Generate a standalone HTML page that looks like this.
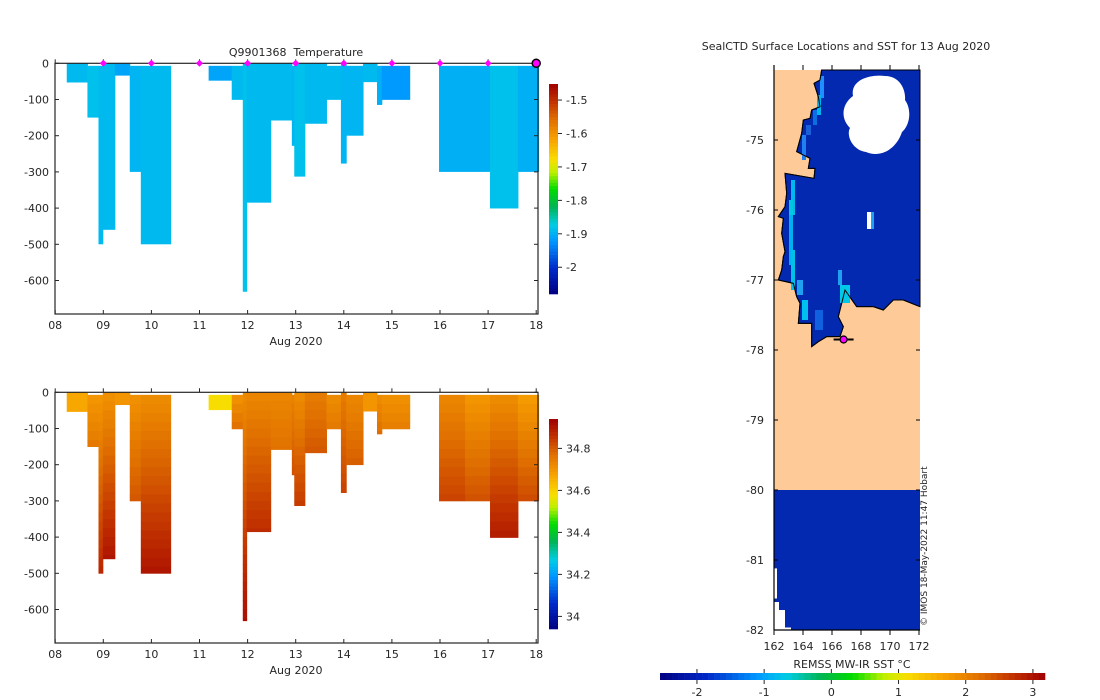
<!DOCTYPE html>
<html><head><meta charset="utf-8">
<style>
html,body{margin:0;padding:0;background:#fff;}
svg{display:block;font-family:"DejaVu Sans","Liberation Sans",sans-serif;}
text{fill:#262626;font-size:11px;}
</style></head>
<body>
<svg id="fig" width="1100" height="700" viewBox="0 0 1100 700"></svg>
<script>
// ---- data ----
const dayStart = [0.24,0.67,0.9,0.99,1.24,1.55,1.78,3.19,3.67,3.9,3.98,4.48,4.92,4.97,5.19,5.64,5.94,6.05,6.4,6.69,6.79,7.98,8.52,9.04,9.62];
const dayEnd   = [0.67,0.9,0.99,1.24,1.55,1.78,2.4,3.67,3.9,3.98,4.48,4.92,4.97,5.19,5.64,5.94,6.05,6.4,6.69,6.79,7.37,8.52,9.04,9.62,10.05];
const depthTop = [0,7,7,0,0,7,7,7,7,0,0,0,7,0,0,7,0,7,0,7,7,7,7,7,7];
const depthBot = [53,150,500,460,34,300,500,48,101,631,385,158,228,313,167,101,277,200,52,115,101,300,300,401,300];
const tempVals = [-1.89,-1.885,-1.89,-1.89,-1.91,-1.895,-1.89,-1.91,-1.89,-1.885,-1.89,-1.89,-1.895,-1.885,-1.89,-1.89,-1.895,-1.895,-1.89,-1.9,-1.92,-1.9,-1.9,-1.885,-1.9];
const salTop = [34.67,34.70,34.70,34.71,34.70,34.71,34.72,34.58,34.71,34.72,34.73,34.73,34.74,34.72,34.75,34.72,34.75,34.73,34.70,34.72,34.71,34.73,34.70,34.72,34.69];
const salBot = [34.67,34.76,34.88,34.91,34.70,34.81,34.91,34.58,34.78,34.92,34.87,34.77,34.82,34.85,34.81,34.76,34.84,34.80,34.70,34.78,34.75,34.84,34.82,34.90,34.83];
const surfaceDays = [1,2,3,4,5,6,7,8,9];
const lastDay = [10];
const xTickLabels = ["08","09","10","11","12","13","14","15","16","17","18"];
const yTicks = [0,-100,-200,-300,-400,-500,-600];
const tempTicks = [-1.5,-1.6,-1.7,-1.8,-1.9,-2];
const salTicks = [34.8,34.6,34.4,34.2,34];
const sstTicks = [-2,-1,0,1,2,3];
const latTicks = [-75,-76,-77,-78,-79,-80,-81,-82];
const lonTicks = [162,164,166,168,170,172];
const shipLon = [166.8]; const shipLat = [-77.85];

const NS="http://www.w3.org/2000/svg";
const svg=document.getElementById('fig');
function el(tag,attrs,parent){const e=document.createElementNS(NS,tag);for(const k in attrs)e.setAttribute(k,attrs[k]);(parent||svg).appendChild(e);return e;}
function txt(s,x,y,anchor,parent,size){const t=el('text',{x:x,y:y,'text-anchor':anchor||'middle'},parent);if(size)t.style.fontSize=size+'px';t.textContent=s;return t;}

const stops=[[0,[0,0,128]],[0.12,[0,40,200]],[0.25,[0,150,255]],[0.33,[0,205,230]],[0.42,[0,180,80]],[0.5,[0,220,0]],[0.58,[190,240,0]],[0.64,[248,222,0]],[0.74,[248,160,0]],[0.83,[224,112,0]],[0.92,[192,48,0]],[1,[160,0,0]]];
function cmap(t){t=Math.max(0,Math.min(1,t));for(let i=1;i<stops.length;i++){if(t<=stops[i][0]){const a=stops[i-1],b=stops[i];const f=(t-a[0])/(b[0]-a[0]);const c=a[1].map((v,j)=>Math.round(v+(b[1][j]-v)*f));return `rgb(${c[0]},${c[1]},${c[2]})`;}}return 'rgb(160,0,0)';}

const X0=55.2, DAY=48.1, L=55, R=538;
const xs=d=>X0+d*DAY;
function panel(name,y0,ybot,drawCols){
  const g=el('g',{});
  
  
  const ys=z=>y0+z*0.362;
  drawCols(g,ys);
  el('rect',{x:L,y:y0,width:R-L,height:ybot-y0,fill:'none',stroke:'#262626','stroke-width':1.2},g);
  xTickLabels.forEach((lab,i)=>{const x=xs(i);el('line',{x1:x,x2:x,y1:ybot,y2:ybot-4,stroke:'#262626'},g);el('line',{x1:x,x2:x,y1:y0,y2:y0-4,stroke:'#262626'},g);const t=txt(lab,x,ybot+15,'middle',g);});
  yTicks.forEach(v=>{const y=ys(-v);el('line',{x1:L,x2:L+4,y1:y,y2:y,stroke:'#262626'},g);el('line',{x1:R,x2:R-4,y1:y,y2:y,stroke:'#262626'},g);const t=txt(String(v),L-6,y+4,'end',g);});
  const xl=txt('Aug 2020',296,ybot+31,'middle',g);
  
  return ys;
}
const tnorm=v=>(v+2.08)/(2.08-1.452);
const ysT=panel('temperature-panel',63.3,314,(g,ys)=>{
  for(let i=0;i<dayStart.length;i++){
    const r=el('rect',{x:xs(dayStart[i]),y:ys(depthTop[i]),width:xs(dayEnd[i])-xs(dayStart[i])+0.5,height:ys(depthBot[i])-ys(depthTop[i]),fill:cmap(tnorm(tempVals[i]))},g);
    
    
  }
});
surfaceDays.forEach(d=>{const m=el('path',{d:`M${xs(d)-3.5},${ysT(0)} L${xs(d)},${ysT(0)-3.5} L${xs(d)+3.5},${ysT(0)} L${xs(d)},${ysT(0)+3.5}Z`,fill:'#ff00ff'});
  
  });
lastDay.forEach(d=>{const c=el('circle',{cx:xs(d),cy:ysT(0),r:4,fill:'#ff00ff',stroke:'#000','stroke-width':1.5});
  
  });
const tt=txt('Q9901368\u00a0 Temperature',296,56,'middle');


const snorm=v=>(v-33.94)/1.0;
panel('salinity-panel',392.3,643,(g,ys)=>{
  for(let i=0;i<dayStart.length;i++){
    const top=depthTop[i],bot=depthBot[i];const step=25;
    for(let z=top;z<bot;z+=step){
      const z2=Math.min(bot,z+step);const f=(z-top)/Math.max(1,bot-top);
      const v=salTop[i]+(salBot[i]-salTop[i])*f;
      const r=el('rect',{x:xs(dayStart[i]),y:ys(z),width:xs(dayEnd[i])-xs(dayStart[i])+0.5,height:ys(z2)-ys(z)+0.4,fill:cmap(snorm(v))},g);
      
      
    }
  }
});

function vbar(name,x,y1,y2,vmin,vmax,ticks){
  const g=el('g',{});
  
  
  const n=64,h=(y2-y1)/n;
  for(let i=0;i<n;i++)el('rect',{x:x,y:y2-(i+1)*h,width:9,height:h+0.3,fill:cmap((i+0.5)/n)},g);
  ticks.forEach(v=>{const y=y2-(v-vmin)/(vmax-vmin)*(y2-y1);el('line',{x1:x+9,x2:x+13,y1:y,y2:y,stroke:'#262626'},g);txt(String(v),x+17,y+4,'start',g);});
}
vbar('temperature-colorbar',549,84,294,-2.08,-1.452,tempTicks);
vbar('salinity-colorbar',549,419,629,33.94,34.94,salTicks);

// ---- map ----
const mapL=774,mapR=920,mapT=70,mapB=630;
const lonX=lo=>774+(lo-162)*14.5;
const latY=la=>140+(-75-la)*70;
const mg=el('g',{});


el('rect',{x:mapL,y:mapT,width:mapR-mapL,height:mapB-mapT,fill:'#fecb98'},mg);
el('rect',{x:mapL,y:latY(-80),width:mapR-mapL,height:mapB-latY(-80),fill:'#0329b0'},mg);
el('path',{d:`M${mapL},${latY(-81.12)} h3 v${latY(-81.55)-latY(-81.12)} h-3Z M${mapL},${latY(-81.6)} h5 l0,8 h6 v${latY(-81.95)-latY(-81.7)} h6 v10 h-17Z`,fill:'#fff'},mg);
const coast=[[245,30],[240,60],[222,70],[235,110],[240,140],[215,150],[210,175],[190,180],[185,220],[170,275],[210,295],[205,325],[225,325],[222,355],[135,340],[140,400],[135,440],[115,470],[130,475],[125,520],[135,575],[130,590],[125,630],[115,660],[160,670],[170,710],[180,730],[175,790],[215,790],[215,860],[235,845],[260,830],[300,830],[310,800],[295,770],[315,690],[350,740],[400,740],[430,750],[460,720],[490,720],[540,740],[540,30]].map(p=>[p[0]/3+740,p[1]/3+60]);
el('path',{d:'M'+coast.map(p=>p.join(',')).join(' L')+'Z',fill:'#0329b0',stroke:'#000','stroke-width':1},mg);
const cells=[[820,76,4,22,'#1e90ff'],[817,95,4,20,'#00b4f0'],[813,110,4,15,'#0a70e0'],[806,125,5,10,'#1a60d8'],[802,135,4,25,'#2080f0'],[791,180,4,35,'#00b8f0'],[789,200,4,20,'#00c8e0'],[789,215,4,50,'#00b0f0'],[791,250,4,40,'#00c0e8'],[797,280,6,15,'#20a0f0'],[802,300,6,20,'#00c0f0'],[815,310,8,20,'#1060e0'],[838,270,4,15,'#20a0f0'],[840,285,10,18,'#00c8e8'],[867,212,4,17,'#ffffff'],[871,212,3,17,'#20a0f0']];
cells.forEach(c=>{const r=el('rect',{x:c[0],y:c[1],width:c[2],height:c[3],fill:c[4]},mg);
  
  });
el('path',{d:'M'+coast.map(p=>p.join(',')).join(' L')+'Z',fill:'none',stroke:'#000','stroke-width':1},mg);
const cl=el('path',{d:'M853,96 C850,80 870,74 885,76 C900,76 906,90 905,100 C912,110 910,125 902,132 C896,150 880,158 866,152 C852,150 846,135 850,128 C840,118 842,104 853,96Z',fill:'#fff'},mg);


shipLon.forEach((lo,i)=>{el('line',{x1:lonX(lo)-10,x2:lonX(lo)+10,y1:latY(shipLat[i]),y2:latY(shipLat[i]),stroke:'#000','stroke-width':2},mg);
  const c=el('circle',{cx:lonX(lo),cy:latY(shipLat[i]),r:3.5,fill:'#ff00ff',stroke:'#000','stroke-width':1.2},mg);
  
  });
el('line',{x1:mapL,x2:mapL,y1:mapT-5,y2:mapB,stroke:'#000','stroke-width':1.2},mg);
el('line',{x1:mapL,x2:mapR,y1:mapB,y2:mapB,stroke:'#000','stroke-width':1.2},mg);
latTicks.forEach(v=>{const y=latY(v);el('line',{x1:mapL,x2:mapL+4,y1:y,y2:y,stroke:'#000'},mg);el('line',{x1:mapR-4,x2:mapR,y1:y,y2:y,stroke:'#000'},mg);const t=txt(String(v),764,y+4,'end',mg);});
lonTicks.forEach(v=>{const x=lonX(v);el('line',{x1:x,x2:x,y1:mapB,y2:mapB+5,stroke:'#000'},mg);el('line',{x1:x,x2:x,y1:mapT-5,y2:mapT,stroke:'#000'},mg);const t=txt(String(v),x,650,'middle',mg);});
const mt=txt('SealCTD Surface Locations and SST for 13 Aug 2020',846,50,'middle');

const cr=txt('© IMOS 18-May-2022 11:47 Hobart',0,0,'start',null,9);
cr.setAttribute('transform','translate(927,626) rotate(-90)');


const sg=el('g',{});


const sx=v=>660+(v+2.55)/(5.73)*385;
for(let i=0;i<64;i++)el('rect',{x:660+i*385/64,y:673,width:385/64+0.3,height:7,fill:cmap((i+0.5)/64)},sg);
sstTicks.forEach(v=>{el('line',{x1:sx(v),x2:sx(v),y1:669,y2:673,stroke:'#262626'},sg);el('line',{x1:sx(v),x2:sx(v),y1:680,y2:684,stroke:'#262626'},sg);txt(String(v),sx(v),696,'middle',sg);});
const st=txt('REMSS MW-IR SST °C',852,668,'middle',sg);

</script>
</body></html>
